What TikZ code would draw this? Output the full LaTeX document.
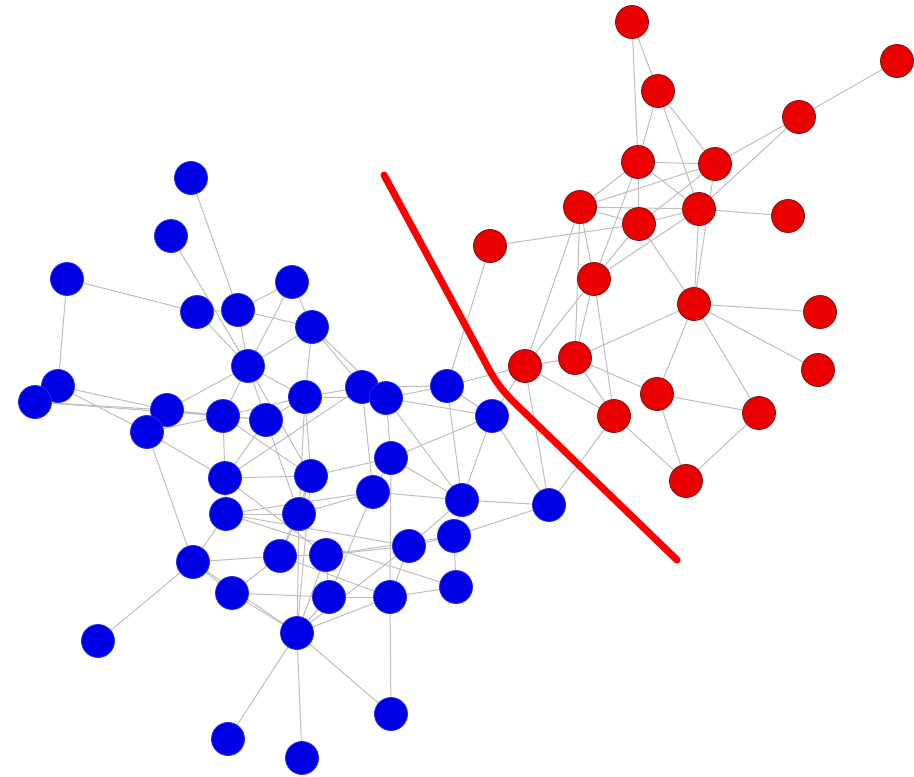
\documentclass[tikz,border=0pt]{standalone}
\usetikzlibrary{backgrounds}
\definecolor{nblue}{RGB}{0,0,228}
\definecolor{nbluebd}{RGB}{40,40,235}
\definecolor{nred}{RGB}{235,0,0}
\definecolor{nredbd}{RGB}{120,20,20}
\definecolor{edgegray}{RGB}{190,190,190}
\begin{document}
\begin{tikzpicture}[x=1pt,y=-1pt,
  bnode/.style={circle,fill=nblue,draw=nbluebd,line width=0.8pt,minimum size=33pt,inner sep=0pt},
  rnode/.style={circle,fill=nred,draw=nredbd,line width=0.8pt,minimum size=33pt,inner sep=0pt},
  edge/.style={draw=edgegray,line width=1pt},
  cutline/.style={draw=red,line width=7pt,line cap=round,line join=round}]
\useasboundingbox (0,0) rectangle (914,777);
% red nodes
\node[rnode] (R1) at (632,22) {};
\node[rnode] (R2) at (897,61) {};
\node[rnode] (R3) at (658,91) {};
\node[rnode] (R4) at (799,117) {};
\node[rnode] (R5) at (638,162) {};
\node[rnode] (R6) at (715,164) {};
\node[rnode] (R7) at (580,207) {};
\node[rnode] (R8) at (639,224) {};
\node[rnode] (R9) at (699,209) {};
\node[rnode] (R10) at (788,216) {};
\node[rnode] (R11) at (490,246) {};
\node[rnode] (R12) at (594,279) {};
\node[rnode] (R13) at (694,304) {};
\node[rnode] (R14) at (820,312) {};
\node[rnode] (R15) at (525,366) {};
\node[rnode] (R16) at (575,358) {};
\node[rnode] (R17) at (818,370) {};
\node[rnode] (R18) at (657,394) {};
\node[rnode] (R19) at (614,416) {};
\node[rnode] (R20) at (759,413) {};
\node[rnode] (R21) at (686,481) {};
% blue nodes
\node[bnode] (B1) at (191,178) {};
\node[bnode] (B2) at (171,236) {};
\node[bnode] (B3) at (67,279) {};
\node[bnode] (B4) at (292,282) {};
\node[bnode] (B5) at (197,312) {};
\node[bnode] (B6) at (238,310) {};
\node[bnode] (B7) at (312,327) {};
\node[bnode] (B8) at (248,366) {};
\node[bnode] (B9) at (58,386) {};
\node[bnode] (B10) at (35,402) {};
\node[bnode] (B11) at (167,410) {};
\node[bnode] (B12) at (147,432) {};
\node[bnode] (B13) at (223,416) {};
\node[bnode] (B14) at (266,420) {};
\node[bnode] (B15) at (305,397) {};
\node[bnode] (B16) at (362,387) {};
\node[bnode] (B17) at (386,398) {};
\node[bnode] (B18) at (447,386) {};
\node[bnode] (B19) at (492,416) {};
\node[bnode] (B20) at (391,458) {};
\node[bnode] (B21) at (225,478) {};
\node[bnode] (B22) at (311,476) {};
\node[bnode] (B23) at (373,492) {};
\node[bnode] (B24) at (462,500) {};
\node[bnode] (B25) at (549,505) {};
\node[bnode] (B26) at (226,514) {};
\node[bnode] (B27) at (299,514) {};
\node[bnode] (B28) at (454,536) {};
\node[bnode] (B29) at (193,562) {};
\node[bnode] (B30) at (280,556) {};
\node[bnode] (B31) at (326,555) {};
\node[bnode] (B32) at (409,546) {};
\node[bnode] (B33) at (232,593) {};
\node[bnode] (B34) at (329,597) {};
\node[bnode] (B35) at (390,597) {};
\node[bnode] (B36) at (456,587) {};
\node[bnode] (B37) at (297,633) {};
\node[bnode] (B38) at (98,641) {};
\node[bnode] (B39) at (391,714) {};
\node[bnode] (B40) at (228,739) {};
\node[bnode] (B41) at (302,758) {};
\begin{scope}[on background layer]
\foreach \a/\b in {R1/R3,R1/R5,R2/R4,R3/R5,R3/R6,R3/R9,R4/R6,R4/R9,R5/R6,R5/R7,R5/R8,R5/R9,
  R6/R7,R6/R8,R6/R13,R7/R8,R7/R9,R7/R12,R8/R9,R9/R10,R11/R8,R12/R5,R12/R9,R12/R8,R9/R13,
  R8/R13,R12/R16,R12/R15,R12/R19,R13/R16,R13/R14,R13/R17,R13/R18,R13/R20,R16/R18,R16/R19,
  R15/R16,R15/R19,R18/R20,R18/R21,R20/R21,R19/R21,R7/R16,R7/R15,
  B18/R15,R11/B18,R19/B25,R15/B25,B19/R15,
  B1/B6,B2/B8,B3/B5,B3/B9,B4/B6,B4/B7,B4/B8,B5/B6,B5/B8,B6/B8,B6/B7,B7/B8,B7/B15,B7/B17,
  B7/B16,B8/B13,B8/B15,B8/B14,B8/B11,B8/B22,B9/B11,B9/B12,B10/B13,B10/B11,B11/B13,B11/B14,
  B12/B21,B12/B29,B12/B13,B13/B15,B13/B14,B13/B22,B14/B15,B14/B27,B14/B21,B15/B16,B15/B17,
  B15/B22,B15/B27,B16/B17,B16/B18,B16/B21,B16/B23,B17/B18,B17/B20,B17/B19,B17/B24,B18/B19,
  B18/B24,B19/B20,B19/B24,B19/B25,B20/B23,B20/B24,B20/B22,B21/B26,B21/B31,B22/B27,B22/B30,
  B22/B37,B23/B24,B23/B27,B23/B26,B23/B34,B24/B25,B24/B32,B24/B28,B25/B28,B26/B29,B26/B27,
  B26/B32,B27/B30,B27/B37,B28/B32,B28/B36,B28/B31,B29/B30,B29/B33,B29/B37,B29/B38,B30/B31,
  B30/B35,B31/B32,B31/B34,B31/B37,B32/B35,B32/B37,B33/B37,B33/B34,B33/B30,B34/B35,B34/B37,
  B35/B36,B35/B37,B35/B39,B37/B39,B37/B40,B37/B41,B20/B35,B11/B12,B21/B22,B13/B21,B26/B36}
  \draw[edge] (\a) -- (\b);
\end{scope}
% cut line
\coordinate (c1) at (384,175);
\coordinate (c2) at (484,360);
\coordinate (c3) at (522,410);
\coordinate (c4) at (677,560);
\draw[cutline] (c1) -- (c2) .. controls (496,384) and (505,394) .. (c3) -- (c4);
\end{tikzpicture}
\end{document}
